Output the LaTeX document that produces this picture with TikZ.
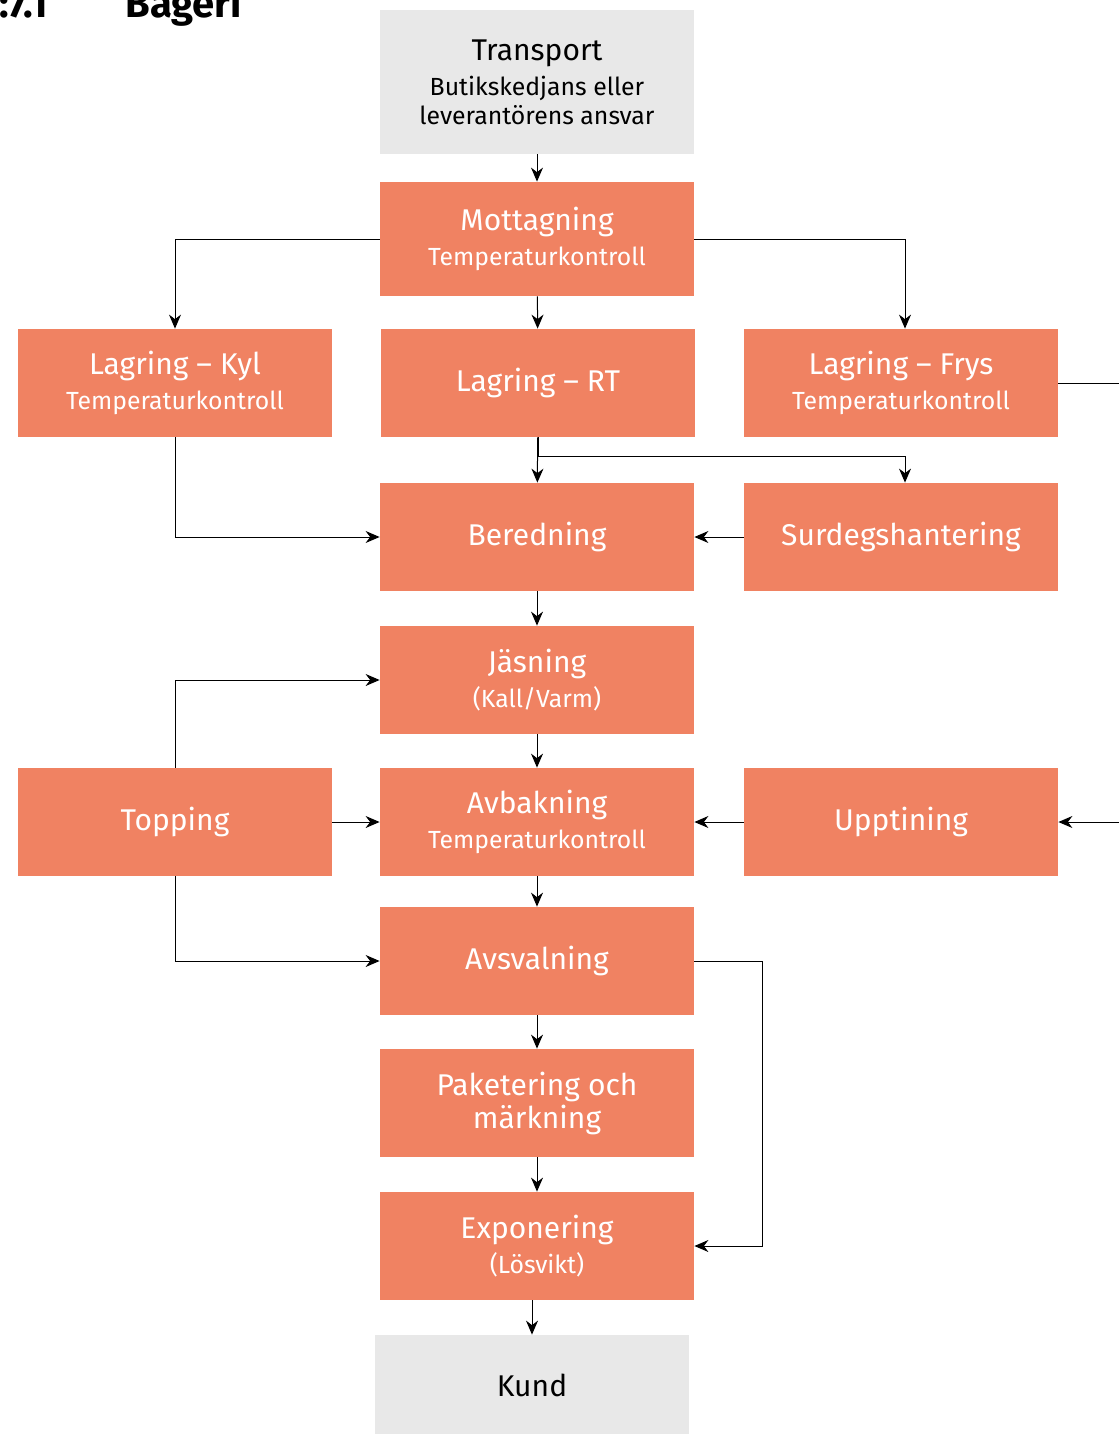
\documentclass[tikz,border=0pt]{standalone}
\usepackage{fontspec}
\setmainfont{Fira Sans}
\usetikzlibrary{arrows.meta}

\definecolor{boxorange}{RGB}{240,130,98}
\definecolor{boxgray}{RGB}{232,232,232}

\newcommand{\hfont}{\fontsize{15}{17.5}\selectfont}
\newcommand{\sfont}{\fontsize{12.4}{14}\selectfont}

\tikzset{
  stepbox/.style={fill=boxorange, text=white, minimum width=157pt, minimum height=54pt,
    inner sep=0pt, align=center, font=\hfont},
  endbox/.style={stepbox, fill=boxgray, text=black},
  flow/.style={-{Stealth[length=7pt,width=6pt]}, line width=0.5pt},
  rubrik/.style={inner sep=0pt, font=\fontsize{20}{22}\selectfont\bfseries},
}

\begin{document}
\begin{tikzpicture}[x=0.5pt,y=-0.5pt]
  \useasboundingbox (0,0) rectangle (1119,1434);

  % rubrik
  \node[rubrik, anchor=base east] (nr) at (48,18) {:7.1};
  \node[rubrik, anchor=base west] (titel) at (125,18) {Bageri};

  \node[endbox, minimum height=72pt] (transport) at (537,82)
    {Transport\\{\sfont Butikskedjans eller}\\[-3pt]{\sfont leverantörens ansvar}};
  \node[stepbox, minimum height=57pt] (mottagning) at (537,239)
    {Mottagning\\{\sfont Temperaturkontroll}};
  \node[stepbox] (kyl) at (175,383) {Lagring -- Kyl\\{\sfont Temperaturkontroll}};
  \node[stepbox] (rt) at (538,383) {Lagring -- RT};
  \node[stepbox] (frys) at (901,383) {Lagring -- Frys\\{\sfont Temperaturkontroll}};
  \node[stepbox] (beredning) at (537,537) {Beredning};
  \node[stepbox] (surdeg) at (901,537) {Surdegshantering};
  \node[stepbox] (jasning) at (537,680) {Jäsning\\{\sfont (Kall/Varm)}};
  \node[stepbox] (topping) at (175,822) {Topping};
  \node[stepbox] (avbakning) at (537,822) {Avbakning\\{\sfont Temperaturkontroll}};
  \node[stepbox] (upptining) at (901,822) {Upptining};
  \node[stepbox] (avsvalning) at (537,961) {Avsvalning};
  \node[stepbox] (paketering) at (537,1103) {Paketering och\\[-1pt]märkning};
  \node[stepbox] (exponering) at (537,1246) {Exponering\\{\sfont (Lösvikt)}};
  \node[endbox, minimum height=50pt] (kund) at (532,1385) {Kund};

  \coordinate (frysut) at (1119,383);
  \coordinate (upptin) at (1119,822);

  \draw[flow] (transport) -- (mottagning);
  \draw[flow] (mottagning) -- (rt);
  \draw[flow] (mottagning.west) -| (kyl);
  \draw[flow] (mottagning.east) -| ([xshift=2pt]frys.north);
  \draw[line width=0.5pt] (frys.east) -- (frysut);

  \draw[flow] (rt) -- (beredning);
  \draw[flow] (rt.south) -- ++(0,19) -| ([xshift=2pt]surdeg.north);
  \draw[flow] (kyl.south) |- (beredning.west);
  \draw[flow] (surdeg) -- (beredning);

  \draw[flow] (beredning) -- (jasning);
  \draw[flow] (topping.north) |- (jasning.west);
  \draw[flow] (jasning) -- (avbakning);
  \draw[flow] (topping) -- (avbakning);
  \draw[flow] (upptining) -- (avbakning);
  \draw[flow] (upptin) -- (upptining.east);

  \draw[flow] (avbakning) -- (avsvalning);
  \draw[flow] (topping.south) |- (avsvalning.west);
  \draw[flow] (avsvalning.east) -- ++(68,0) |- (exponering.east);
  \draw[flow] (avsvalning) -- (paketering);
  \draw[flow] (paketering) -- (exponering);
  \draw[flow] (exponering.south -| kund.north) -- (kund.north);
\end{tikzpicture}
\end{document}
